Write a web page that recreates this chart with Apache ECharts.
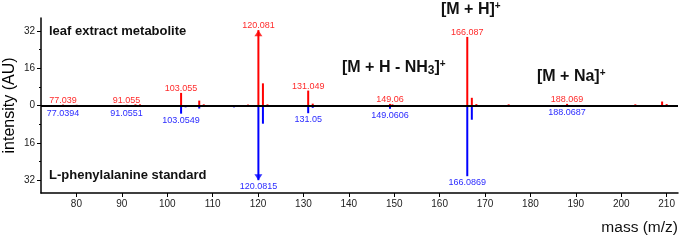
<!DOCTYPE html>
<html>
<head>
<meta charset="utf-8">
<script src="https://cdn.jsdelivr.net/npm/echarts@6/dist/echarts.min.js"></script>
<style>
  html, body { margin: 0; padding: 0; background: #fff; }
  #main { width: 680px; height: 240px; }
</style>
</head>
<body>
<div id="main"></div>
<script>
// leaf extract metabolite (drawn upward)
const redMz = [77.039, 80.05, 91.055, 93.0, 94.0, 103.055, 107.05, 108.05, 117.8, 120.081, 121.08, 122.08,
  131.049, 132.05, 149.06, 149.6, 166.087, 167.09, 168.09, 175.2, 188.069, 203.1, 209.0, 210.0];
const redInt = [0.4, 0.3, 0.3, 0.5, 0.5, 5.4, 2.1, 0.5, 0.4, 32.3, 9.5, 0.5,
  6.4, 0.8, 0.7, 0.5, 29.4, 3.3, 0.6, 0.5, 0.7, 0.5, 1.7, 0.6];
const redLabels = ['77.039', '', '91.055', '', '', '103.055', '', '', '', '120.081', '', '',
  '131.049', '', '149.06', '', '166.087', '', '', '', '188.069', '', '', ''];

// L-phenylalanine standard (drawn downward)
const blueMz = [77.0394, 79.0, 91.0551, 103.0549, 104.05, 107.05, 114.7, 120.0815, 121.08, 131.05, 132.05,
  149.0606, 166.0869, 167.09, 172.2, 174.3, 188.0687, 207.8];
const blueInt = [0.6, 0.6, 0.6, 3.5, 0.8, 1.3, 0.8, 32.0, 7.8, 3.3, 1.0,
  1.4, 30.3, 6.1, 0.5, 0.5, 0.4, 0.5];
const blueLabels = ['77.0394', '', '91.0551', '103.0549', '', '', '', '120.0815', '', '131.05', '',
  '149.0606', '166.0869', '', '', '', '188.0687', ''];

// off-scale peaks marked with arrows
const redArrow = [[120.081, 32.3]];
const blueArrow = [[120.0815, -32.0]];

const xTicks = [80, 90, 100, 110, 120, 130, 140, 150, 160, 170, 180, 190, 200, 210];
const yTicks = [-32, -16, 0, 16, 32];
const yMinorTicks = [-24, -8, 8, 24];

const FONT = 'Liberation Sans, Arial, sans-serif';
const myChart = echarts.init(document.getElementById('main'));

const option = {
  animation: false,
  textStyle: { fontFamily: FONT },
  grid: { left: 41, right: 2, top: 18, bottom: 47, outerBoundsMode: 'none', containLabel: false },
  xAxis: {
    type: 'value',
    min: 72.2,
    max: 212.5,
    splitLine: { show: false },
    axisLine: { onZero: false, lineStyle: { color: '#000', width: 1.5 } },
    axisTick: { customValues: xTicks, length: 4, lineStyle: { color: '#000' } },
    axisLabel: { customValues: xTicks, fontSize: 10, color: '#222', margin: 6 }
  },
  yAxis: [
    {
      type: 'value',
      min: -37.5,
      max: 37.5,
      name: 'intensity (AU)',
      nameLocation: 'middle',
      nameGap: 23,
      nameMoveOverlap: false,
      nameTextStyle: { fontSize: 16, color: '#000' },
      splitLine: { show: false },
      axisLine: { onZero: false, lineStyle: { color: '#000', width: 1.5 } },
      axisTick: { customValues: yTicks, length: 4, lineStyle: { color: '#000' } },
      axisLabel: {
        customValues: yTicks, fontSize: 10, color: '#222', margin: 6,
        formatter: v => String(Math.abs(v))
      }
    },
    {
      type: 'value',
      min: -37.5,
      max: 37.5,
      position: 'left',
      splitLine: { show: false },
      axisLine: { show: false },
      axisTick: { customValues: yMinorTicks, length: 2, lineStyle: { color: '#000' } },
      axisLabel: { show: false }
    }
  ],
  series: [
    {
      name: 'standard',
      type: 'bar',
      barWidth: 2,
      barGap: '-100%',
      itemStyle: { color: '#0000ff' },
      data: blueMz.map((m, i) => [m, -blueInt[i]]),
      label: {
        show: true,
        position: 'bottom',
        distance: 2,
        fontSize: 9,
        color: '#2b2bff',
        formatter: p => blueLabels[p.dataIndex]
      },
      markLine: {
        silent: true,
        symbol: 'none',
        label: { show: false },
        lineStyle: { color: '#000', width: 2, type: 'solid' },
        data: [{ yAxis: 0 }]
      }
    },
    {
      name: 'leaf',
      type: 'bar',
      barWidth: 2,
      barGap: '-100%',
      itemStyle: { color: '#ff0000' },
      data: redMz.map((m, i) => [m, redInt[i]]),
      label: {
        show: true,
        position: 'top',
        distance: 0,
        fontSize: 9,
        color: '#ff2b2b',
        formatter: p => redLabels[p.dataIndex]
      }
    },
    {
      type: 'scatter',
      symbol: 'triangle',
      symbolSize: [8, 6],
      symbolOffset: [0, 3],
      itemStyle: { color: '#ff0000' },
      data: redArrow
    },
    {
      type: 'scatter',
      symbol: 'triangle',
      symbolSize: [8, 6],
      symbolRotate: 180,
      symbolOffset: [0, -3],
      itemStyle: { color: '#0000ff' },
      data: blueArrow
    }
  ],
  graphic: [
    {
      type: 'text', x: 49, y: 31,
      style: { text: 'leaf extract metabolite', font: 'bold 13px ' + FONT, fill: '#111', verticalAlign: 'middle' }
    },
    {
      type: 'text', x: 49, y: 175,
      style: { text: 'L-phenylalanine standard', font: 'bold 13px ' + FONT, fill: '#111', verticalAlign: 'middle' }
    },
    {
      type: 'text', x: 441, y: 10,
      style: {
        text: '[M + H]{sup|+}', fontSize: 16, fontWeight: 'bold', fontFamily: FONT, fill: '#111',
        verticalAlign: 'middle',
        rich: { sup: { fontSize: 10, fontWeight: 'bold', padding: [0, 0, 8, 0] } }
      }
    },
    {
      type: 'text', x: 342, y: 68,
      style: {
        text: '[M + H - NH{sub|3}]{sup|+}', fontSize: 16, fontWeight: 'bold', fontFamily: FONT, fill: '#111',
        verticalAlign: 'middle',
        rich: {
          sub: { fontSize: 12, fontWeight: 'bold', padding: [6, 0, 0, 0] },
          sup: { fontSize: 10, fontWeight: 'bold', padding: [0, 0, 8, 0] }
        }
      }
    },
    {
      type: 'text', x: 537, y: 77,
      style: {
        text: '[M + Na]{sup|+}', fontSize: 16, fontWeight: 'bold', fontFamily: FONT, fill: '#111',
        verticalAlign: 'middle',
        rich: { sup: { fontSize: 10, fontWeight: 'bold', padding: [0, 0, 8, 0] } }
      }
    },
    {
      type: 'text', right: 2, top: 220,
      style: { text: 'mass (m/z)', fontSize: 15.5, fontFamily: FONT, fill: '#111' }
    }
  ]
};

myChart.setOption(option);
</script>
</body>
</html>
